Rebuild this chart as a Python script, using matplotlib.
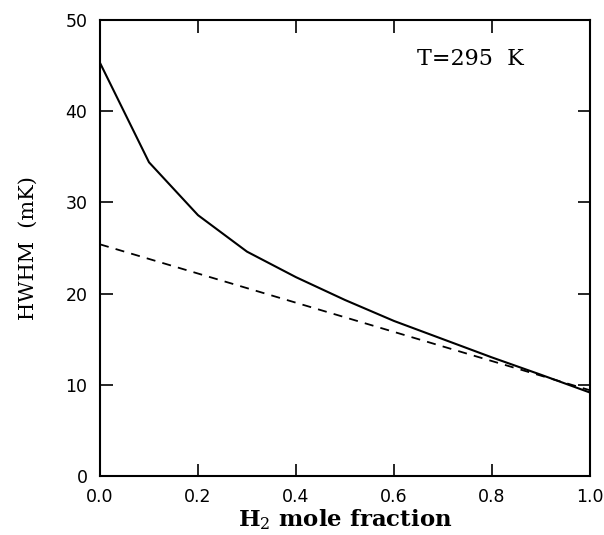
import matplotlib
matplotlib.use("Agg")
import matplotlib.pyplot as plt

# H2 mole fraction vs HWHM (mK)
x_frac   = [0.0, 0.1, 0.2, 0.3, 0.4, 0.5, 0.6, 0.7, 0.8, 0.9, 1.0]
hwhm_obs = [45.3, 34.4, 28.6, 24.6, 21.8, 19.3, 17.0, 15.0, 13.0, 11.1, 9.15]
hwhm_lin = [25.4, 23.8, 22.2, 20.6, 19.0, 17.4, 15.8, 14.2, 12.6, 11.0, 9.4]

x_ticks = [0.0, 0.2, 0.4, 0.6, 0.8, 1.0]
y_ticks = [0, 10, 20, 30, 40, 50]

plt.rcParams["mathtext.fontset"] = "dejavuserif"

fig = plt.figure(figsize=(6.04, 5.35), dpi=100)
ax = fig.add_axes([100 / 604, 59 / 535, 490 / 604, 456 / 535])

ax.plot(x_frac, hwhm_obs, color="black", linewidth=1.5)
ax.plot(x_frac, hwhm_lin, color="black", linewidth=1.3, dashes=(5, 4))

ax.set_xlim(0, 1)
ax.set_ylim(0, 50)
ax.set_xticks(x_ticks)
ax.set_xticklabels([f"{t:.1f}" for t in x_ticks])
ax.set_yticks(y_ticks)

ax.tick_params(direction="in", length=9, width=1.2, top=True, right=True,
               labelsize=12.5, pad=9)
for s in ax.spines.values():
    s.set_linewidth(1.5)

ax.set_xlabel(r"H$_2$ mole fraction", family="DejaVu Serif",
              fontweight="bold", fontsize=16.5, labelpad=1)
ax.set_ylabel("HWHM  (mK)", family="DejaVu Serif", fontsize=15, labelpad=20)

ax.text(0.755, 0.915, "T=295  K", transform=ax.transAxes, family="DejaVu Serif",
        fontsize=16, ha="center", va="center")

fig.savefig("out.png", dpi=100, facecolor="white")
